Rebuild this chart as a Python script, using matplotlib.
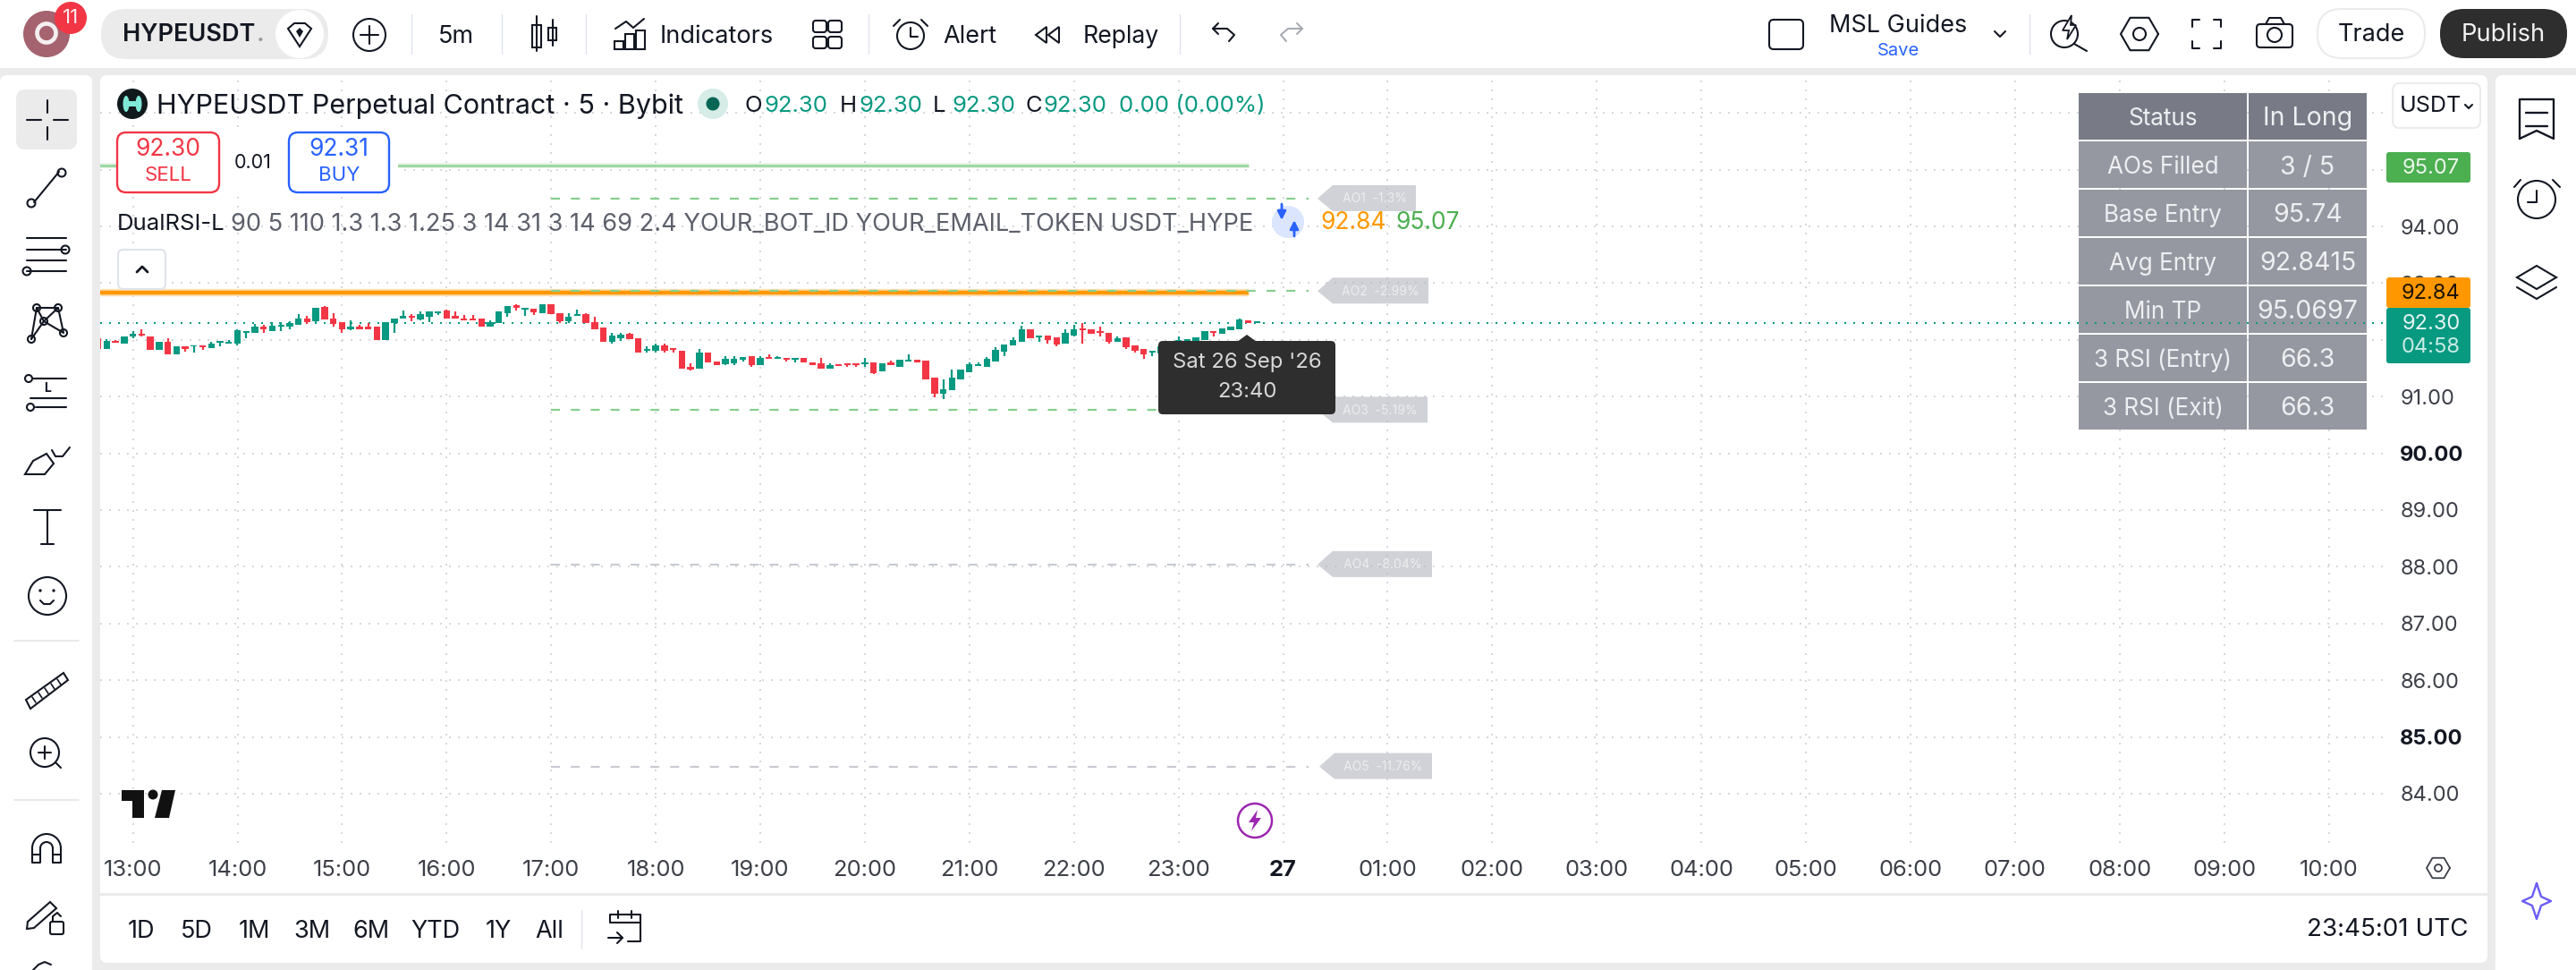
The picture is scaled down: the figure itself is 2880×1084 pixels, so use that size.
import matplotlib
matplotlib.use("Agg")
import matplotlib.pyplot as plt
import matplotlib.dates as mdates
import numpy as np
import pandas as pd
from matplotlib.patches import Arc, Circle, Ellipse, FancyBboxPatch, Polygon, Rectangle

plt.rcParams['font.family'] = ['Inter', 'DejaVu Sans']

# 5 minute bars, first one at 12:40, last one 23:45
opens = [92.03, 91.84, 91.98, 91.94, 92.06, 92.09, 92.06, 91.82, 91.97, 91.75, 91.89, 91.88, 91.91, 91.85, 91.95, 91.94, 91.94, 92.13, 92.13, 92.23,
         92.16, 92.24, 92.24, 92.27, 92.38, 92.33, 92.58, 92.38, 92.31, 92.18, 92.23, 92.24, 92.23, 92.00, 92.29, 92.38, 92.42, 92.36, 92.41, 92.47,
         92.52, 92.42, 92.38, 92.38, 92.38, 92.23, 92.29, 92.47, 92.61, 92.54, 92.55, 92.47, 92.63, 92.47, 92.33, 92.42, 92.45, 92.32, 92.22, 91.97,
         92.03, 92.11, 92.03, 91.81, 91.80, 91.91, 91.84, 91.81, 91.53, 91.50, 91.77, 91.62, 91.57, 91.59, 91.65, 91.71, 91.56, 91.70, 91.66, 91.67,
         91.65, 91.68, 91.60, 91.58, 91.50, 91.56, 91.58, 91.58, 91.57, 91.60, 91.44, 91.60, 91.53, 91.62, 91.65, 91.63, 91.34, 91.05, 91.12, 91.31,
         91.43, 91.54, 91.53, 91.62, 91.79, 91.91, 91.97, 92.18, 92.05, 92.08, 92.04, 91.94, 92.08, 92.19, 92.18, 92.14, 92.13, 91.97, 92.04, 91.91,
         91.84, 91.77, 91.76, 91.82, 91.89, 91.95, 91.97, 92.00, 92.15, 92.11, 92.17, 92.19, 92.34, 92.30]
highs = [92.03, 92.01, 92.00, 92.06, 92.15, 92.18, 92.06, 91.96, 92.03, 91.89, 91.89, 91.91, 91.91, 91.97, 91.96, 92.00, 92.18, 92.16, 92.28, 92.26,
         92.31, 92.32, 92.33, 92.45, 92.42, 92.56, 92.59, 92.47, 92.31, 92.34, 92.26, 92.29, 92.23, 92.32, 92.37, 92.51, 92.45, 92.50, 92.50, 92.49,
         92.54, 92.50, 92.44, 92.44, 92.38, 92.34, 92.50, 92.59, 92.63, 92.56, 92.55, 92.63, 92.63, 92.47, 92.47, 92.53, 92.47, 92.41, 92.22, 92.12,
         92.13, 92.13, 92.03, 91.88, 91.94, 91.94, 91.84, 91.81, 91.58, 91.84, 91.77, 91.62, 91.71, 91.71, 91.70, 91.71, 91.71, 91.75, 91.72, 91.67,
         91.67, 91.68, 91.60, 91.68, 91.59, 91.56, 91.58, 91.58, 91.68, 91.60, 91.58, 91.64, 91.65, 91.75, 91.65, 91.63, 91.34, 91.31, 91.47, 91.47,
         91.60, 91.60, 91.70, 91.87, 91.92, 92.04, 92.25, 92.18, 92.08, 92.08, 92.05, 92.18, 92.26, 92.30, 92.18, 92.23, 92.13, 92.06, 92.04, 91.91,
         91.84, 91.80, 91.88, 91.92, 92.06, 92.01, 92.04, 92.15, 92.15, 92.20, 92.23, 92.38, 92.34, 92.30]
lows = [91.84, 91.84, 91.95, 91.94, 92.03, 92.06, 91.82, 91.82, 91.75, 91.75, 91.79, 91.78, 91.82, 91.85, 91.88, 91.94, 91.91, 92.03, 92.13, 92.13,
        92.16, 92.16, 92.18, 92.26, 92.28, 92.29, 92.36, 92.23, 92.12, 92.17, 92.19, 92.19, 92.00, 92.00, 92.13, 92.38, 92.33, 92.34, 92.32, 92.44,
        92.38, 92.38, 92.35, 92.35, 92.23, 92.23, 92.29, 92.41, 92.52, 92.42, 92.44, 92.47, 92.45, 92.29, 92.29, 92.42, 92.29, 92.19, 91.97, 91.94,
        91.98, 92.01, 91.78, 91.78, 91.77, 91.78, 91.77, 91.50, 91.46, 91.50, 91.60, 91.55, 91.55, 91.55, 91.62, 91.53, 91.56, 91.67, 91.66, 91.62,
        91.60, 91.60, 91.56, 91.50, 91.50, 91.54, 91.53, 91.53, 91.53, 91.40, 91.44, 91.56, 91.53, 91.62, 91.60, 91.31, 90.99, 90.96, 91.12, 91.31,
        91.43, 91.54, 91.53, 91.62, 91.71, 91.91, 91.97, 92.03, 91.97, 91.94, 91.89, 91.94, 92.06, 91.94, 92.11, 92.06, 91.94, 91.97, 91.84, 91.77,
        91.66, 91.71, 91.76, 91.82, 91.89, 91.95, 91.97, 92.00, 92.06, 92.11, 92.17, 92.19, 92.29, 92.30]
closes = [91.84, 91.98, 91.95, 92.06, 92.11, 92.07, 91.82, 91.96, 91.75, 91.89, 91.84, 91.91, 91.87, 91.94, 91.96, 91.96, 92.17, 92.16, 92.23, 92.18,
          92.25, 92.26, 92.30, 92.37, 92.31, 92.56, 92.36, 92.28, 92.18, 92.23, 92.19, 92.19, 92.00, 92.32, 92.37, 92.42, 92.39, 92.45, 92.50, 92.49,
          92.38, 92.38, 92.35, 92.35, 92.23, 92.31, 92.50, 92.59, 92.57, 92.56, 92.48, 92.63, 92.45, 92.33, 92.41, 92.44, 92.29, 92.19, 91.97, 92.08,
          92.09, 92.01, 91.78, 91.84, 91.91, 91.81, 91.82, 91.50, 91.48, 91.77, 91.60, 91.55, 91.66, 91.67, 91.70, 91.55, 91.68, 91.67, 91.70, 91.65,
          91.67, 91.60, 91.56, 91.50, 91.55, 91.54, 91.55, 91.55, 91.59, 91.42, 91.58, 91.56, 91.65, 91.64, 91.60, 91.31, 91.05, 91.13, 91.33, 91.47,
          91.57, 91.57, 91.66, 91.82, 91.92, 92.00, 92.18, 92.03, 92.08, 92.00, 91.92, 92.12, 92.18, 92.17, 92.11, 92.12, 91.96, 92.03, 91.87, 91.81,
          91.75, 91.80, 91.88, 91.92, 92.00, 92.01, 92.04, 92.15, 92.12, 92.20, 92.23, 92.36, 92.29, 92.30]

price_ticks = [84, 85, 86, 87, 88, 89, 90, 91, 92, 93, 94, 95, 96]
hidden_prices = [92, 95, 96]
bold_prices = [85, 90]
time_labels = ['13:00', '14:00', '15:00', '16:00', '17:00', '18:00', '19:00', '20:00', '21:00', '22:00', '23:00',
               '27', '01:00', '02:00', '03:00', '04:00', '05:00', '06:00', '07:00', '08:00', '09:00', '10:00']

avg_entry = 92.84
min_tp = 95.07
last_price = 92.30
ao_names = ['AO1  -1.3%', 'AO2  -2.99%', 'AO3  -5.19%', 'AO4  -8.04%', 'AO5  -11.76%']
ao_prices = [94.49, 92.86, 90.76, 88.04, 84.48]
ao_colors = ['#86cf8e', '#86cf8e', '#86cf8e', '#c9cbd2', '#c9cbd2']

table_left = ['Status', 'AOs Filled', 'Base Entry', 'Avg Entry', 'Min TP', '3 RSI (Entry)', '3 RSI (Exit)']
table_right = ['In Long', '3 / 5', '95.74', '92.8415', '95.0697', '66.3', '66.3']

range_buttons = ['1D', '5D', '1M', '3M', '6M', 'YTD', '1Y', 'All']
range_x = [158, 220, 284, 349, 415, 487, 557, 614]

INK = '#131722'
GREEN = '#089981'
RED = '#f23645'
BLUE = '#2962ff'
W, H = 2880, 1084

fig = plt.figure(figsize=(W / 100, H / 100), dpi=100, facecolor='#ebebeb')


def pixel_axes(z):
    a = fig.add_axes([0, 0, 1, 1], zorder=z)
    a.set_xlim(0, W)
    a.set_ylim(H, 0)
    a.axis('off')
    a.patch.set_alpha(0)
    return a


bg = pixel_axes(0)
top = pixel_axes(2)


def rbox(a, x0, y0, x1, y1, r=8, fc='white', ec='none', lw=0, **kw):
    p = FancyBboxPatch((x0 + r, y0 + r), x1 - x0 - 2 * r, y1 - y0 - 2 * r, boxstyle='round,pad=%f,rounding_size=%f' % (r, r),
                       fc=fc, ec=ec, lw=lw, **kw)
    a.add_patch(p)
    return p


def label(x, y, s, size=16, color=INK, ha='center', a=None, **kw):
    # inter sits a little high with va=center
    (a or top).text(x, y + 2.5, s, fontsize=size, color=color, ha=ha, va='center', **kw)


def line(xs, ys, lw=1.5, color=INK, a=None, **kw):
    (a or top).plot(xs, ys, color=color, lw=lw, solid_capstyle='round', **kw)


def ring(x, y, r, lw=1.5, color=INK, fc='none', a=None):
    (a or top).add_patch(Circle((x, y), r, fc=fc, ec=color, lw=lw))


# panels
rbox(bg, 112, 84, 2781, 1076, r=8)
rbox(bg, 0, 84, 103, 1100, r=8)
rbox(bg, 2790, 84, 2900, 1100, r=8)
bg.add_patch(Rectangle((0, 0), W, 76, fc='white', ec='none'))
bg.add_patch(Rectangle((112, 998), 2669, 3, fc='#ebebeb', ec='none'))

# chart axes, scales set so that an hour is 116.9 px and a price unit 63.4 px
ax = fig.add_axes([112 / W, 1 - 942 / H, (2666 - 112) / W, (942 - 84) / H], zorder=1)
ax.patch.set_alpha(0)
for s in ax.spines.values():
    s.set_visible(False)

times = mdates.date2num(pd.date_range('2026-09-26 12:40', periods=len(opens), freq='5min'))
hour = 1 / 24
t13 = mdates.date2num(pd.Timestamp('2026-09-26 13:00'))
ax.set_xlim(t13 + (112 - 148.6) / 116.9 * hour, t13 + (2666 - 148.6) / 116.9 * hour)
ax.set_ylim(94 - (942 - 253) / 63.4, 94 - (84 - 253) / 63.4)

tick_x = [t13 + i * hour for i in range(len(time_labels))]
ax.set_xticks(tick_x)
ax.set_xticklabels(time_labels, fontsize=18.4, color='#3d4048')
ax.set_yticks(price_ticks)
ax.set_yticklabels(['' if p in hidden_prices else '%.2f' % p for p in price_ticks], fontsize=17, color='#3d4048')
ax.yaxis.tick_right()
ax.tick_params(axis='x', length=0, pad=14)
ax.tick_params(axis='y', length=0, pad=12.5)
for lab, p in zip(ax.get_yticklabels(), price_ticks):
    if p in bold_prices:
        lab.set_fontweight('bold')
        lab.set_color(INK)
ax.get_xticklabels()[time_labels.index('27')].set_fontweight('bold')
ax.get_xticklabels()[time_labels.index('27')].set_color(INK)
ax.set_axisbelow(True)
ax.grid(True, color='#d6d8de', lw=1.44, linestyle=(0, (1, 4)))

# table sits between the grid and the last price line
tx = bg.transData
for i in range(len(table_left)):
    y0 = 104 + 54 * i
    fc = '#787b86' if i == 0 else '#9598a1'
    ax.add_patch(Rectangle((2324, y0), 188, 52, fc=fc, ec='none', transform=tx, zorder=1, clip_on=False))
    ax.add_patch(Rectangle((2514, y0), 132, 52, fc=fc, ec='none', transform=tx, zorder=1, clip_on=False))
    ax.text(2418, y0 + 29, table_left[i], fontsize=18.8, color='#eeeff1', ha='center', va='center', transform=tx, zorder=5)
    ax.text(2580, y0 + 29, table_right[i], fontsize=20.5, color='#eeeff1', ha='center', va='center', transform=tx, zorder=5)

# plan lines
line_end = t13 + (1396 - 148.6) / 116.9 * hour
ao_start = t13 + 4 * hour
ao_end = t13 + (1463 - 148.6) / 116.9 * hour
ax.hlines(min_tp, times[0], line_end, color='#e3f3e4', lw=4, zorder=2)
ax.hlines(min_tp, times[0], line_end, color='#9ad69e', lw=2, zorder=2)
ax.hlines(avg_entry, times[0], line_end, color='#ffe0b2', lw=6, zorder=2)
ax.hlines(avg_entry, times[0], line_end, color='#ff9800', lw=3.2, zorder=2)
for p, c in zip(ao_prices, ao_colors):
    ax.hlines(p, ao_start, ao_end, color=c, lw=1.6, linestyle=(0, (4.5, 5.5)), zorder=2.5)
ax.axhline(last_price, color=GREEN, lw=1.44, linestyle=(0, (1, 4)), zorder=2)

# candles
o = np.array(opens)
c = np.array(closes)
colors = [GREEN if a >= b else RED for a, b in zip(c, o)]
ax.vlines(times, lows, highs, color=colors, lw=1.6, zorder=3)
ax.bar(times, np.maximum(np.abs(c - o), 0.03), bottom=np.minimum(o, c), width=7.4 / 116.9 * hour, color=colors, zorder=3)

# AO tags
for name, p, right in zip(ao_names, ao_prices, [1583, 1597, 1596, 1601, 1601]):
    y = 253 + (94 - p) * 63.4
    tip = 1473 if p != 84.48 else 1475
    top.add_patch(Polygon([(tip, y), (tip + 17, y - 15), (right, y - 15), (right, y + 14), (tip + 17, y + 14)],
                          closed=True, fc='#b2b5be', ec='none', alpha=0.6))
    label((tip + 17 + right) / 2, y - 2, name, size=10, color='#eceded')

# legend row
top.add_patch(Circle((148, 116), 17, fc='#10191c', ec='none'))
top.add_patch(Ellipse((141, 116), 7, 18, fc='#7fe8d6', ec='none'))
top.add_patch(Ellipse((155, 116), 7, 18, fc='#7fe8d6', ec='none'))
top.add_patch(Rectangle((141, 113), 14, 6, fc='#7fe8d6', ec='none'))
label(175, 116, 'HYPEUSDT Perpetual Contract · 5 · Bybit', size=22, ha='left')
top.add_patch(Circle((797, 116), 17, fc='#d5ece7', ec='none'))
top.add_patch(Circle((797, 116), 7.5, fc='#056656', ec='none'))
for x, s in zip([832, 939, 1043, 1146], ['O', 'H', 'L', 'C']):
    label(x, 116, s, size=18.5, ha='left')
for x, s in zip([854, 961, 1064, 1167, 1251], ['92.30', '92.30', '92.30', '92.30', '0.00 (0.00%)']):
    label(x, 116, s, size=18.5, color=GREEN, ha='left')

# sell / buy
top.add_patch(Rectangle((131, 148), 314, 67, fc='white', ec='none'))
rbox(top, 131, 148, 245, 215, r=10, ec=RED, lw=1.7)
rbox(top, 323, 148, 435, 215, r=10, ec=BLUE, lw=1.7)
label(188, 165, '92.30', size=19, color=RED)
label(188, 193, 'SELL', size=16, color=RED)
label(379, 165, '92.31', size=19, color=BLUE)
label(379, 193, 'BUY', size=16, color=BLUE)
label(283, 180, '0.01', size=15.5)

# indicator row
label(131, 248, 'DualRSI-L', size=18.5, ha='left')
label(258, 248, '90 5 110 1.3 1.3 1.25 3 14 31 3 14 69 2.4 YOUR_BOT_ID YOUR_EMAIL_TOKEN USDT_HYPE', size=19.6, color='#5d606b', ha='left')
top.add_patch(Circle((1440, 248), 18, fc='#dbe5fd', ec='none'))
top.annotate('', xy=(1433, 246), xytext=(1433, 228), arrowprops=dict(arrowstyle='-|>', color=BLUE, lw=2, mutation_scale=14, shrinkA=0, shrinkB=0))
top.annotate('', xy=(1447, 246), xytext=(1447, 264), arrowprops=dict(arrowstyle='-|>', color=BLUE, lw=2, mutation_scale=14, shrinkA=0, shrinkB=0))
label(1476, 247, '92.84', size=19, color='#ff9800', ha='left')
label(1560, 247, '95.07', size=19, color='#4caf50', ha='left')
rbox(top, 132, 279, 185, 323, r=6, ec='#e0e3eb', lw=1.5)
line([153, 159, 165], [304, 298, 304], lw=2)

# price axis labels
rbox(top, 2675, 93, 2773, 143, r=8, ec='#ebebeb', lw=1.5)
label(2683, 116, 'USDT', size=18, ha='left')
line([2756, 2760, 2764], [117, 121, 117], lw=1.5)
rbox(top, 2668, 170, 2762, 204, r=3, fc='#4caf50')
label(2718, 185, '95.07', size=17, color='#eef7ee')
rbox(top, 2668, 310, 2762, 344, r=3, fc='#ff9800')
label(2718, 325, '92.84', size=17, color='#1c1200')
rbox(top, 2668, 344, 2762, 406, r=3, fc='#089981')
label(2718, 359, '92.30', size=17, color='#e6f5f2')
label(2718, 386, '04:58', size=17, color='#c9ebe5')

# tooltip
rbox(top, 1295, 381, 1493, 463, r=5, fc='#2e2e2e')
top.add_patch(Polygon([(1383, 382), (1394, 374), (1405, 382)], closed=True, fc='#2e2e2e', ec='none'))
label(1394, 403, "Sat 26 Sep '26", size=17.2, color='#d8d8d8')
label(1394, 435, '23:40', size=17.2, color='#d8d8d8')

# watermark, session icon
top.add_patch(Polygon([(136, 883), (161, 883), (161, 914), (148, 914), (148, 895), (136, 895)], closed=True, fc='#111'))
top.add_patch(Circle((171, 888), 5.5, fc='#111'))
top.add_patch(Polygon([(181, 883), (196, 883), (189, 914), (173, 914)], closed=True, fc='#111'))
ring(1403, 917, 19, lw=1.8, color='#9c27b0')
top.add_patch(Polygon([(1406, 905), (1396, 919), (1402, 919), (1399, 929), (1410, 914), (1404, 914)], closed=True, fc='#9c27b0'))
hx = 2726 + 13 * np.cos(np.arange(7) * np.pi / 3)
hy = 970 + 13 * np.sin(np.arange(7) * np.pi / 3)
line(hx, hy, lw=1.3, color='#3d4048')
ring(2726, 970, 4, lw=1.3, color='#3d4048')

# top bar, left side
top.add_patch(Ellipse((52, 38), 52, 52, fc='#a5636f', ec='none'))
ring(52, 37, 10.5, lw=3.4, color='#f4eef0')
top.add_patch(Circle((79, 20), 18, fc=RED, ec='white', lw=0))
label(79, 18, '11', size=16, color='#ffe9eb')
rbox(top, 113, 10, 367, 66, r=28, fc='#ebebeb')
label(137, 36, 'HYPEUSDT', size=19.5, ha='left', fontweight='semibold')
label(287, 36, '.', size=19.5, color='#9a9a9a', ha='left', fontweight='semibold')
top.add_patch(Circle((335, 38), 27, fc='white', ec='none'))
top.add_patch(Polygon([(322, 32), (329, 26), (341, 26), (348, 32), (335, 52)], closed=True, fc='none', ec=INK, lw=1.5))
top.add_patch(Polygon([(331, 35), (335, 31), (339, 35), (335, 42)], closed=True, fc=INK, ec='none'))
ring(413, 39, 18)
line([403, 423], [39, 39])
line([413, 413], [29, 49])
for x in [460, 561, 655, 971, 1319, 2269]:
    line([x, x], [16, 60], lw=1, color='#e0e3eb')
label(510, 38, '5m', size=19.5)
top.add_patch(Rectangle((595, 28), 10, 25, fc='none', ec=INK, lw=1.5))
line([600, 600], [18, 57])
top.add_patch(Rectangle((613, 31), 9, 14, fc='none', ec=INK, lw=1.5))
line([618, 618], [22, 51])
line([688, 700, 708, 720], [32, 24, 31, 21])
for x0, y0 in [(687, 46), (699, 38), (711, 34)]:
    top.add_patch(Rectangle((x0, y0), 10, 55 - y0, fc='none', ec=INK, lw=1.5))
label(738, 38, 'Indicators', size=19.6, ha='left')
for x0, y0 in [(909, 23), (926, 23), (909, 41), (926, 41)]:
    rbox(top, x0, y0, x0 + 15, y0 + 13, r=3, fc='none', ec=INK, lw=1.5)
ring(1018, 40, 15)
line([1018, 1018, 1026], [31, 41, 41])
line([999, 1006], [29, 22])
line([1030, 1037], [22, 29])
label(1084, 38, 'Alert', size=19.5)
top.add_patch(Polygon([(1158, 39), (1170, 30), (1170, 48)], closed=True, fc='none', ec=INK, lw=1.5))
top.add_patch(Polygon([(1172, 39), (1184, 30), (1184, 48)], closed=True, fc='none', ec=INK, lw=1.5))
label(1253, 38, 'Replay', size=19.2)
line([1362, 1356, 1362], [26, 32, 38], lw=1.5)
line([1356, 1372, 1380, 1374], [32, 32, 39, 46], lw=1.5)
line([1450, 1456, 1450], [26, 32, 38], lw=1.5, color='#a8abb3')
line([1456, 1440, 1432, 1438], [32, 32, 39, 46], lw=1.5, color='#a8abb3')

# top bar, right side
rbox(top, 1978, 22, 2016, 55, r=5, fc='none', ec=INK, lw=1.5)
label(2122, 27, 'MSL Guides', size=19.5)
label(2122, 54, 'Save', size=14.5, color=BLUE)
line([2230, 2236, 2242], [35, 41, 35])
ring(2308, 38, 15)
line([2319, 2333], [49, 57])
top.add_patch(Polygon([(2316, 17), (2306, 34), (2313, 34), (2311, 44), (2321, 28), (2315, 28)], closed=True, fc='white', ec=INK, lw=1.3))
ax_hex_x = 2392 + 21 * np.cos(np.arange(7) * np.pi / 3)
ax_hex_y = 38 + 21 * np.sin(np.arange(7) * np.pi / 3)
line(ax_hex_x, ax_hex_y)
ring(2392, 38, 7)
for sx, sy in [(-1, -1), (1, -1), (-1, 1), (1, 1)]:
    line([2467 + sx * 8, 2467 + sx * 16, 2467 + sx * 16], [38 + sy * 16, 38 + sy * 16, 38 + sy * 8])
rbox(top, 2523, 27, 2563, 53, r=4, fc='none', ec=INK, lw=1.5)
line([2533, 2537, 2550, 2554], [27, 20, 20, 27])
ring(2543, 39, 8)
rbox(top, 2591, 10, 2711, 65, r=27, ec='#ebebeb', lw=1.5)
label(2651, 36, 'Trade', size=19.5)
rbox(top, 2728, 10, 2870, 65, r=27, fc='#2e2e2e')
label(2799, 36, 'Publish', size=19.7, color='#f2f2f2')

# left toolbar
rbox(top, 18, 100, 86, 167, r=10, fc='#ebebeb')
line([30, 46], [134, 134])
line([60, 76], [134, 134])
line([53, 53], [112, 126])
line([53, 53], [142, 156])
line([38, 66], [226, 192])
ring(35, 227, 4.5, fc='white')
ring(69, 193, 4.5, fc='white')
for y, x0 in [(266, 30), (279, 30), (291, 30), (303, 30)]:
    line([x0, 74], [y, y])
ring(73, 279, 4.5, fc='white')
ring(30, 303, 4.5, fc='white')
line([35, 41, 65, 49, 41], [379, 344, 344, 359, 344][:5])
line([49, 71, 65], [359, 372, 344])
line([35, 49], [379, 359])
for x, y in [(35, 379), (41, 344), (49, 359), (65, 344), (71, 372)]:
    ring(x, y, 4, fc='white')
line([36, 74], [423, 423])
line([34, 74], [445, 445])
line([40, 74], [455, 455])
ring(32, 423, 4, fc='white')
ring(34, 455, 4, fc='white')
label(53, 432, 'L', size=10, fontweight='bold')
top.add_patch(Polygon([(28, 530), (37, 515), (52, 507), (60, 518), (50, 530)], closed=True, fc='none', ec=INK, lw=1.5))
line([58, 62, 70, 78], [503, 510, 510, 500])
line([38, 68], [570, 570])
line([53, 53], [570, 608])
line([46, 60], [608, 608])
ring(53, 666, 21)
top.add_patch(Circle((45, 660), 1.7, fc=INK))
top.add_patch(Circle((60, 660), 1.7, fc=INK))
line([45, 49, 56, 60], [671, 675, 675, 671])
line([16, 88], [716, 716], lw=1.2, color='#e4e5e8')
top.add_patch(Polygon([(29, 782), (71, 752), (76, 760), (34, 792)], closed=True, fc='none', ec=INK, lw=1.5))
for i in range(5):
    line([36 + 7 * i, 40 + 7 * i], [779 - 5 * i, 785 - 5 * i], lw=1.2)
ring(50, 841, 16)
line([43, 57], [841, 841])
line([50, 50], [834, 848])
line([62, 68], [852, 858])
line([16, 88], [894, 894], lw=1.2, color='#e4e5e8')
top.add_patch(Arc((52, 948), 32, 32, theta1=180, theta2=360, ec=INK, lw=1.5))
top.add_patch(Arc((52, 948), 14, 14, theta1=180, theta2=360, ec=INK, lw=1.5))
line([36, 36, 45, 45], [948, 964, 964, 948])
line([59, 59, 68, 68], [948, 964, 964, 948])
line([36, 45], [955, 955])
line([59, 68], [955, 955])
top.add_patch(Polygon([(31, 1030), (56, 1008), (63, 1015), (38, 1037), (30, 1038)], closed=True, fc='none', ec=INK, lw=1.5))
rbox(top, 56, 1030, 71, 1044, r=2, fc='white', ec=INK, lw=1.5)
line([59, 59, 64, 68], [1030, 1024, 1020, 1024])
line([37, 43, 50, 57], [1084, 1078, 1075, 1078])

# right toolbar
line([2817, 2817, 2855, 2855, 2836, 2817], [155, 111, 111, 155, 146, 155], lw=1.7)
line([2824, 2848], [126, 126], lw=1.7)
line([2824, 2848], [141, 141], lw=1.7)
ring(2836, 223, 21)
line([2836, 2836, 2826], [213, 226, 226])
line([2811, 2818], [209, 201])
line([2854, 2862], [201, 209])
top.add_patch(Polygon([(2836, 297), (2858, 310), (2836, 323), (2814, 310)], closed=True, fc='none', ec=INK, lw=1.5))
line([2814, 2836, 2858], [321, 334, 321])
star_x = [2836, 2841, 2852, 2841, 2836, 2831, 2820, 2831, 2836]
star_y = [987, 1002, 1007, 1012, 1027, 1012, 1007, 1002, 987]
line(star_x, star_y, lw=1.7, color='#6a5cf5')

# bottom row
for s, x in zip(range_buttons, range_x):
    label(x, 1038, s, size=19.5)
line([650, 650], [1017, 1060], lw=1, color='#e0e3eb')
line([682, 682, 716, 716, 702], [1030, 1022, 1022, 1052, 1052])
line([682, 716], [1031, 1031])
line([691, 691], [1018, 1026])
line([706, 706], [1018, 1026])
line([680, 696, 690], [1048, 1048, 1042])
line([696, 690], [1048, 1054])
label(2669, 1036, '23:45:01 UTC', size=20)

fig.savefig('out.png', dpi=100)
